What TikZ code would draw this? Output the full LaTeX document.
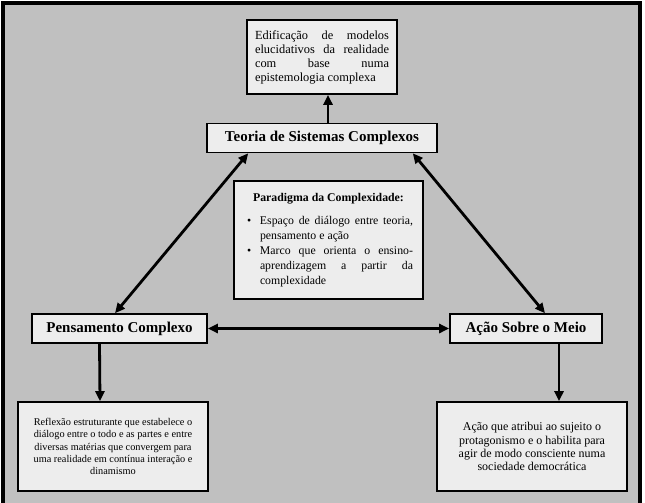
\documentclass[tikz,border=0pt]{standalone}
\usepackage{fontspec}
\setmainfont{Liberation Serif}
\usetikzlibrary{arrows.meta, positioning, calc}
\definecolor{panelgray}{HTML}{C0C0C0}
\definecolor{boxgray}{HTML}{EDEDED}

\begin{document}
\begin{tikzpicture}[
    x=1pt, y=-1pt,
    box/.style={draw, line width=1.6pt, fill=boxgray, inner sep=0pt},
    title/.style={box, font=\fontsize{15}{18}\selectfont\bfseries, minimum height=29pt},
    note/.style={box, align=center, minimum width=190pt, minimum height=89pt},
    link/.style={line width=2.8pt, -{Triangle[length=10pt,width=9pt]}},
    twoway/.style={line width=2.8pt, {Triangle[length=10pt,width=9pt]}-{Triangle[length=10pt,width=9pt]}}
  ]
  \clip (0,0) rectangle (645,503);
  \fill[white] (0,0) rectangle (645,503);
  \draw[line width=4pt, fill=panelgray] (3,3) rectangle (640,530);

  % top row
  \node[box, minimum width=150pt, minimum height=74pt, inner xsep=8pt, text width=134pt,
        align=justify, font=\fontsize{12.4}{14}\selectfont] (edif) at (322,57)
    {\hyphenpenalty=10000 Edificação de modelos\linebreak elucidativos da realidade\linebreak
     com base numa\linebreak epistemologia complexa};
  \node[title, minimum width=230pt] (teoria) at (322,138) {Teoria de Sistemas Complexos};

  % centre
  \node[box, minimum width=189pt, minimum height=118pt, inner xsep=10pt, text width=169pt,
        align=justify, font=\fontsize{11.8}{15}\selectfont] (parad) at (328.5,240)
    {\hyphenpenalty=10000
     {\centering\bfseries Paradigma da Complexidade:\par}
     \vspace{8pt}
     \noindent\hangindent=16pt\hangafter=1\hbox to 16pt{\hskip3pt\textbullet\hss}Espaço de diálogo entre teoria,\linebreak pensamento e ação\par
     \noindent\hangindent=16pt\hangafter=1\hbox to 16pt{\hskip3pt\textbullet\hss}Marco que orienta o ensino-\linebreak aprendizagem a partir da\linebreak complexidade\par};

  % middle row
  \node[title, minimum width=175pt] (pens) at (119.5,328.5) {Pensamento Complexo};
  \node[title, minimum width=152pt] (accao) at (526,328.5) {Ação Sobre o Meio};

  % bottom row
  \node[note, font=\fontsize{10.3}{12.3}\selectfont] (reflex) at (113,446.5)
    {Reflexão estruturante que estabelece o\\ diálogo entre o todo e as partes e entre\\
     diversas matérias que convergem para\\ uma realidade em contínua interação e\\ dinamismo};
  \node[note, font=\fontsize{12}{13.2}\selectfont] (sujeito) at (532,446.5)
    {Ação que atribui ao sujeito o\\ protagonismo e o habilita para\\
     agir de modo consciente numa\\ sociedade democrática};

  % connectors
  \draw[link] ($(teoria.north)+(6,0)$) -- ($(edif.south)+(6,0)$);
  \draw[twoway] ($(teoria.south west)+(42,0)$) -- ($(pens.north)+(-4.5,0)$);
  \draw[twoway] ($(teoria.south east)+(-25,0)$) -- ($(accao.north)+(19,0)$);
  \draw[twoway] (pens.east) -- (accao.west);
  \draw[link] ($(pens.south)+(-20,0)$) -- ($(reflex.north)+(-13,0)$);
  \draw[link] ($(accao.south)+(33,0)$) -- ($(sujeito.north)+(27,0)$);
\end{tikzpicture}
\end{document}
